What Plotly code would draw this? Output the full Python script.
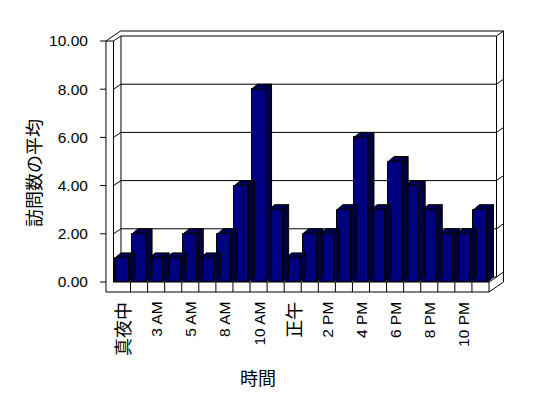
import plotly.graph_objects as go

# ---- data ----
categories = ["真夜中", "1 AM", "3 AM", "4 AM", "5 AM", "7 AM", "8 AM", "9 AM",
              "10 AM", "11 AM", "正午", "1 PM", "2 PM", "3 PM", "4 PM", "5 PM",
              "6 PM", "7 PM", "8 PM", "9 PM", "10 PM", "11 PM"]
values = [1, 2, 1, 1, 2, 1, 2, 4, 8, 3, 1, 2, 2, 3, 6, 3, 5, 4, 3, 2, 2, 3]
label_every = 2
y_ticks = [0, 2, 4, 6, 8, 10]
y_title = "訪問数の平均"
x_title = "時間"

# ---- geometry / style ----
OFF = 8                      # page body margin
W, H = 548 - OFF, 398 - OFF
PL, PT, PR, PB = 100, 30, 510, 300   # plot area in window pixels
ML, MT = PL - OFF, PT - OFF
MR, MB = W - (PR - OFF), H - (PB - OFF)
PXX = 17.07   # px per category
PXY = 24.1    # px per value unit
X0PX = 122 - PL   # px of category 0 inside plot area
Y0PX = 282 - PT   # px of value 0 inside plot area
pw, ph = PR - PL, PB - PT
xrange_ = [-X0PX / PXX, (pw - X0PX) / PXX]
yrange_ = [-(ph - Y0PX) / PXY, Y0PX / PXY]


def ox(p):
    return p / PXX


def oy(p):
    return p / PXY


n = len(values)
xl, xr = -0.5, n - 0.5
v0, vt = 0, max(y_ticks)
wall_t = ox(7.5)
floor_t = oy(10)
din = (ox(7.5), oy(5))
dout = (ox(14.5), oy(10))

LC = "black"
shapes = []


def poly(pts, fill="white", layer="below"):
    path = "M " + " L ".join(f"{x},{y}" for x, y in pts) + " Z"
    shapes.append(dict(type="path", path=path, xref="x", yref="y",
                       fillcolor=fill, line=dict(color=LC, width=1), layer=layer))


def line(a, b, layer="below"):
    shapes.append(dict(type="line", xref="x", yref="y", x0=a[0], y0=a[1],
                       x1=b[0], y1=b[1], line=dict(color=LC, width=1), layer=layer))


# silhouette
poly([(xl - wall_t, vt), (xl - wall_t + dout[0], vt + dout[1]),
      (xr + dout[0], vt + dout[1]), (xr + dout[0], v0 - floor_t + dout[1]),
      (xr, v0 - floor_t), (xl - wall_t, v0 - floor_t)])
# left wall front face top / inner edge, floor front top edge
line((xl - wall_t, vt), (xl, vt))
line((xl, vt), (xl, v0))
line((xl, v0), (xr, v0))
line((xr, v0), (xr, v0 - floor_t))
# left wall inner face
line((xl, vt), (xl + din[0], vt + din[1]))
line((xl, v0), (xl + din[0], v0 + din[1]))
# back wall inner face
poly([(xl + din[0], v0 + din[1]), (xr + din[0], v0 + din[1]),
      (xr + din[0], vt + din[1]), (xl + din[0], vt + din[1])])
line((xr + din[0], vt + din[1]), (xr + dout[0], vt + dout[1]))
line((xr, v0), (xr + din[0], v0 + din[1]))
line((xr + din[0], v0 + din[1]), (xr + dout[0], v0 + dout[1]))
# gridlines
for v in y_ticks:
    if v not in (v0, vt):
        line((xl + din[0], v + din[1]), (xr + din[0], v + din[1]))
        line((xl, v), (xl + din[0], v + din[1]))
        line((xr + din[0], v + din[1]), (xr + dout[0], v + dout[1]))
    line((xl - wall_t - ox(6), v), (xl - wall_t, v))
# floor front dividers
for k in range(1, n):
    line((k - 0.5, v0), (k - 0.5, v0 - floor_t))

# ---- bars ----
bw = 0.82
bdx, bdy = ox(6), oy(5)
sx, sy, tx, ty = [], [], [], []
for i, v in enumerate(values):
    a, b = i - bw / 2, i + bw / 2
    sx += [b, b, b + bdx, b + bdx, b, None]
    sy += [0, v, v + bdy, bdy, 0, None]
    tx += [a, a + bdx, b + bdx, b, a, None]
    ty += [v, v + bdy, v + bdy, v, v, None]

fig = go.Figure()
fig.add_trace(go.Scatter(x=sx, y=sy, mode="lines", fill="toself",
                         fillcolor="#00003c", line=dict(color=LC, width=1),
                         hoverinfo="skip", showlegend=False))
fig.add_trace(go.Scatter(x=tx, y=ty, mode="lines", fill="toself",
                         fillcolor="#000050", line=dict(color=LC, width=1),
                         hoverinfo="skip", showlegend=False))
fig.add_trace(go.Bar(x=list(range(n)), y=values, width=bw,
                     marker=dict(color="#000080", line=dict(color=LC, width=1)),
                     showlegend=False))

FONT = "Liberation Sans, Arial, Noto Sans CJK JP, sans-serif"
CJK = "Noto Sans CJK JP"


def is_cjk(s):
    return any(ord(c) > 0x2E80 for c in s)


annotations = []
# category labels (rotated, top-aligned just below the floor)
for i in range(0, n, label_every):
    s = categories[i]
    annotations.append(dict(
        text=s, x=i, xref="x", y=(PB - 301) / ph, yref="paper",
        textangle=-90, xanchor="center", yanchor="top", showarrow=False,
        font=dict(size=18 if is_cjk(s) else 15.5, family=CJK if is_cjk(s) else FONT),
        borderpad=0))
annotations += [
    dict(text=y_title, textangle=-90, x=(33 - PL) / pw, y=(PB - 173) / ph,
         xref="paper", yref="paper", showarrow=False,
         xanchor="center", yanchor="middle", font=dict(size=18, family=CJK)),
    dict(text=x_title, x=(258 - PL) / pw, y=(PB - 377) / ph,
         xref="paper", yref="paper", showarrow=False,
         xanchor="center", yanchor="middle", font=dict(size=18, family=CJK)),
]

fig.update_layout(
    width=W, height=H,
    margin=dict(l=ML, r=MR, t=MT, b=MB, pad=0, autoexpand=False),
    paper_bgcolor="white", plot_bgcolor="rgba(0,0,0,0)",
    font=dict(family=FONT, color="black"),
    shapes=shapes,
    bargap=0,
    xaxis=dict(range=xrange_, showticklabels=False, showgrid=False,
               zeroline=False, showline=False, ticks="", automargin=False),
    yaxis=dict(range=yrange_, tickvals=y_ticks,
               ticktext=[f"{v:.2f}" for v in y_ticks],
               tickfont=dict(size=15.5), showgrid=False, zeroline=False,
               showline=False, ticks="outside", ticklen=8,
               tickcolor="rgba(0,0,0,0)", automargin=False),
    annotations=annotations,
)
fig.write_html("out.html")
